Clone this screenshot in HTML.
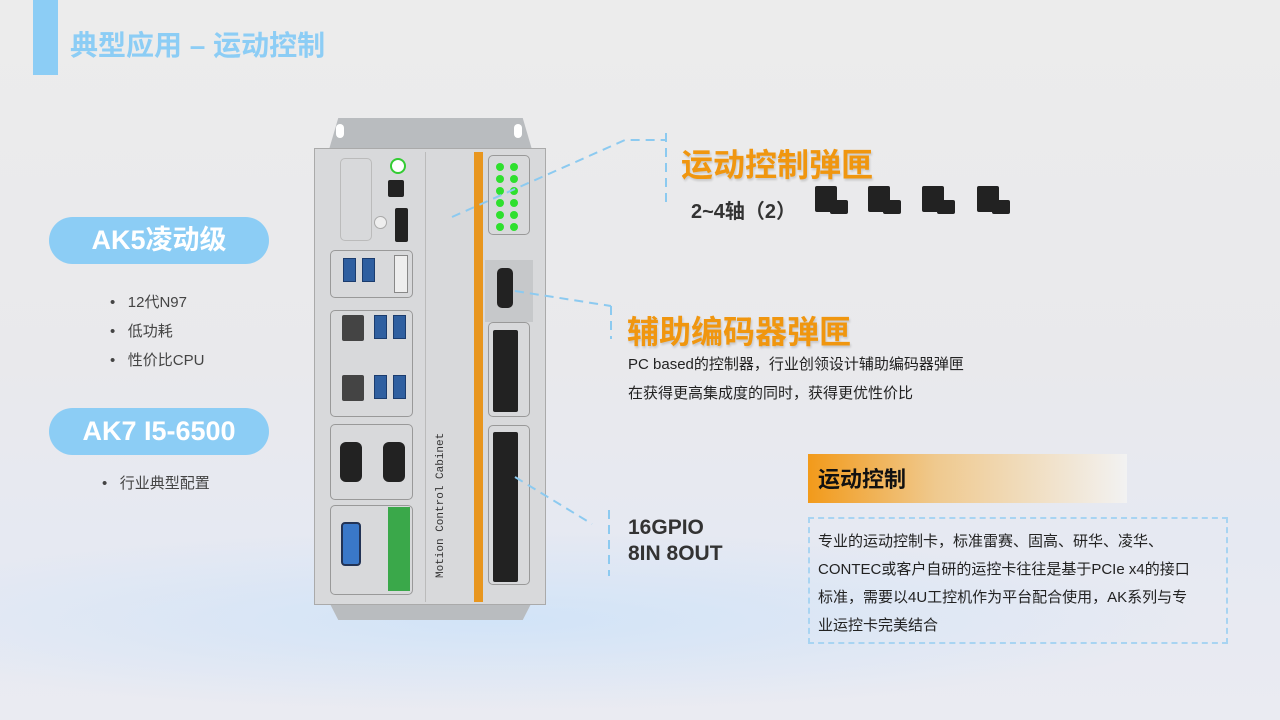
<!DOCTYPE html>
<html><head><meta charset="utf-8"><style>
*{margin:0;padding:0;box-sizing:border-box}
body{width:1280px;height:720px;overflow:hidden;position:relative;font-family:"Liberation Sans","Noto Sans CJK SC",sans-serif;background:linear-gradient(180deg,#ececec 0%,#e9e9ec 50%,#e6e9f2 75%,#eaebf2 100%)}
.a{position:absolute}
.pill{position:absolute;left:49px;width:220px;height:47px;border-radius:24px;background:#8ccdf5;color:#fff;font-weight:bold;font-size:27px;text-align:center;line-height:47px}
.li{position:absolute;font-size:15px;color:#444}
.or{color:#f0960f;font-weight:bold;font-size:32px;text-shadow:1px 2px 2px rgba(0,0,0,.15)}
.blk{position:absolute;background:#222;border-radius:2px}
.usb{position:absolute;width:13px;height:24px;background:#2f5fa0;border:1px solid #1b3c6e}
.box{position:absolute;border:1px solid #999;border-radius:5px}
.dot{position:absolute;width:8px;height:8px;border-radius:50%;background:#2ee02e}
</style></head><body>
<div class="a" style="left:0;top:500px;width:1280px;height:220px;background:radial-gradient(ellipse 700px 90px at 500px 120px,rgba(200,225,250,.7),rgba(230,235,245,0))"></div>
<div class="a" style="left:33px;top:0;width:25px;height:75px;background:#8ccdf5"></div>
<div class="a" style="left:70px;top:24px;font-size:28px;font-weight:bold;color:#8ccdf5">典型应用 – 运动控制</div>

<div class="pill" style="top:217px">AK5凌动级</div>
<div class="li" style="left:110px;top:291px">•&nbsp;&nbsp; 12代N97</div>
<div class="li" style="left:110px;top:320px">•&nbsp;&nbsp; 低功耗</div>
<div class="li" style="left:110px;top:349px">•&nbsp;&nbsp; 性价比CPU</div>
<div class="pill" style="top:408px">AK7 I5-6500</div>
<div class="li" style="left:102px;top:472px">•&nbsp;&nbsp; 行业典型配置</div>

<!-- device -->
<div class="a" style="left:328px;top:118px;width:205px;height:35px;background:#b9bcbf;clip-path:polygon(5% 0,95% 0,100% 100%,0 100%)"></div>
<div class="a" style="left:328px;top:600px;width:205px;height:20px;background:#b9bcbf;clip-path:polygon(0 0,100% 0,95% 100%,5% 100%)"></div>
<div class="a" style="left:336px;top:124px;width:8px;height:14px;border-radius:4px;background:#fff"></div>
<div class="a" style="left:514px;top:124px;width:8px;height:14px;border-radius:4px;background:#fff"></div>
<div class="a" style="left:314px;top:148px;width:232px;height:457px;background:#d8d9db;border:1px solid #aaa"></div>
<div class="a" style="left:474px;top:152px;width:9px;height:450px;background:#e8961e"></div>
<div class="a" style="left:425px;top:152px;width:1px;height:450px;background:#bbb"></div>
<div class="box" style="left:340px;top:158px;width:32px;height:83px;border-color:#bbb"></div>
<div class="a" style="left:390px;top:158px;width:16px;height:16px;border-radius:50%;background:#fff;border:2px solid #3c3"></div>
<div class="blk" style="left:388px;top:180px;width:16px;height:17px"></div>
<div class="blk" style="left:395px;top:208px;width:13px;height:34px"></div>
<div class="a" style="left:374px;top:216px;width:13px;height:13px;border-radius:50%;background:#eee;border:1px solid #aaa"></div>
<div class="box" style="left:330px;top:250px;width:83px;height:48px"></div>
<div class="usb" style="left:343px;top:258px"></div><div class="usb" style="left:362px;top:258px"></div>
<div class="a" style="left:394px;top:255px;width:14px;height:38px;background:#eee;border:1px solid #888"></div>
<div class="box" style="left:330px;top:310px;width:83px;height:107px"></div>
<div class="blk" style="left:342px;top:315px;width:22px;height:26px;background:#444"></div>
<div class="blk" style="left:342px;top:375px;width:22px;height:26px;background:#444"></div>
<div class="usb" style="left:374px;top:315px"></div><div class="usb" style="left:393px;top:315px"></div>
<div class="usb" style="left:374px;top:375px"></div><div class="usb" style="left:393px;top:375px"></div>
<div class="box" style="left:330px;top:424px;width:83px;height:76px"></div>
<div class="blk" style="left:340px;top:442px;width:22px;height:40px;border-radius:6px"></div>
<div class="blk" style="left:383px;top:442px;width:22px;height:40px;border-radius:6px"></div>
<div class="box" style="left:330px;top:505px;width:83px;height:90px"></div>
<div class="a" style="left:341px;top:522px;width:20px;height:44px;background:#3a78c8;border:2px solid #235;border-radius:4px"></div>
<div class="a" style="left:388px;top:507px;width:22px;height:84px;background:#3aa84a"></div>
<div class="a" style="left:435px;top:433px;width:14px;height:145px;font-family:'Liberation Mono',monospace;font-size:11px;color:#333;writing-mode:vertical-rl;transform:rotate(180deg);white-space:nowrap">Motion Control Cabinet</div>
<div class="box" style="left:488px;top:155px;width:42px;height:80px"></div>
<div class="dot" style="left:496px;top:163px"></div><div class="dot" style="left:510px;top:163px"></div>
<div class="dot" style="left:496px;top:175px"></div><div class="dot" style="left:510px;top:175px"></div>
<div class="dot" style="left:496px;top:187px"></div><div class="dot" style="left:510px;top:187px"></div>
<div class="dot" style="left:496px;top:199px"></div><div class="dot" style="left:510px;top:199px"></div>
<div class="dot" style="left:496px;top:211px"></div><div class="dot" style="left:510px;top:211px"></div>
<div class="dot" style="left:496px;top:223px"></div><div class="dot" style="left:510px;top:223px"></div>
<div class="a" style="left:485px;top:260px;width:48px;height:62px;background:#c6c8ca"></div>
<div class="blk" style="left:497px;top:268px;width:16px;height:40px;border-radius:5px"></div>
<div class="box" style="left:488px;top:322px;width:42px;height:95px"></div>
<div class="blk" style="left:493px;top:330px;width:25px;height:82px"></div>
<div class="box" style="left:488px;top:425px;width:42px;height:160px"></div>
<div class="blk" style="left:493px;top:432px;width:25px;height:150px"></div>

<svg class="a" style="left:0;top:0" width="1280" height="720">
<g stroke="#8ccaf0" stroke-width="2" stroke-dasharray="9,6" fill="none">
<polyline points="452,217 625,140 666,140"/>
<line x1="666" y1="133" x2="666" y2="208"/>
<line x1="515" y1="291" x2="611" y2="306"/>
<line x1="611" y1="306" x2="611" y2="339"/>
<line x1="515" y1="477" x2="592" y2="524"/>
<line x1="609" y1="510" x2="609" y2="576"/>
</g></svg>

<div class="a or" style="left:681px;top:140px">运动控制弹匣</div>
<div class="a" style="left:691px;top:195px;font-size:20px;font-weight:bold;color:#333">2~4轴（2）</div>
<div class="blk" style="left:815px;top:186px;width:22px;height:26px"></div><div class="blk" style="left:830px;top:200px;width:18px;height:14px"></div>
<div class="blk" style="left:868px;top:186px;width:22px;height:26px"></div><div class="blk" style="left:883px;top:200px;width:18px;height:14px"></div>
<div class="blk" style="left:922px;top:186px;width:22px;height:26px"></div><div class="blk" style="left:937px;top:200px;width:18px;height:14px"></div>
<div class="blk" style="left:977px;top:186px;width:22px;height:26px"></div><div class="blk" style="left:992px;top:200px;width:18px;height:14px"></div>

<div class="a or" style="left:627px;top:307px">辅助编码器弹匣</div>
<div class="a" style="left:628px;top:353px;font-size:15px;color:#222">PC based的控制器，行业创领设计辅助编码器弹匣</div>
<div class="a" style="left:628px;top:382px;font-size:15px;color:#222">在获得更高集成度的同时，获得更优性价比</div>

<div class="a" style="left:628px;top:515px;font-size:21px;font-weight:bold;color:#333;line-height:26px">16GPIO<br>8IN 8OUT</div>

<div class="a" style="left:808px;top:454px;width:319px;height:49px;background:linear-gradient(90deg,#f29a1a 0%,#efc98e 40%,#f2f2f2 100%)"></div>
<div class="a" style="left:818px;top:462px;font-size:22px;font-weight:bold;color:#111">运动控制</div>
<div class="a" style="left:808px;top:517px;width:420px;height:127px;border:2px dashed #a8d4f2"></div>
<div class="a" style="left:818px;top:528px;width:410px;font-size:15px;color:#222;line-height:28px;white-space:nowrap">专业的运动控制卡，标准雷赛、固高、研华、凌华、<br>CONTEC或客户自研的运控卡往往是基于PCIe x4的接口<br>标准，需要以4U工控机作为平台配合使用，AK系列与专<br>业运控卡完美结合</div>
</body></html>
